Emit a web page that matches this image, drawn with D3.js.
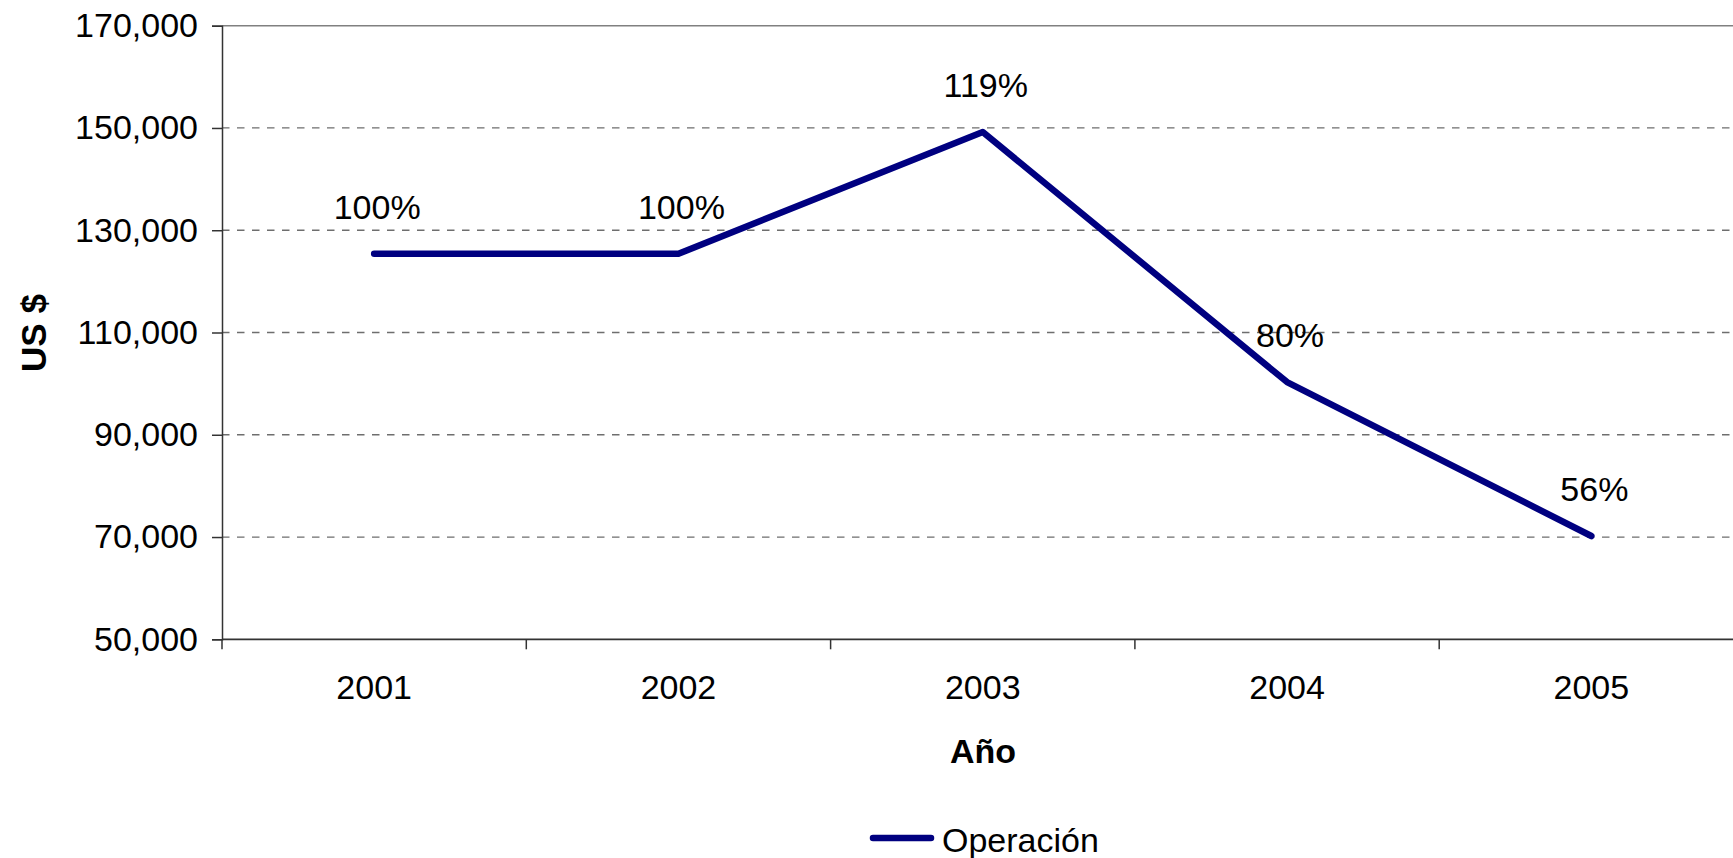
<!DOCTYPE html>
<html>
<head>
<meta charset="utf-8">
<script src="https://cdn.jsdelivr.net/npm/d3@7"></script>
<style>
  html, body { margin: 0; padding: 0; background: #fff; overflow: hidden; }
  text { font-family: "Liberation Sans", Arial, sans-serif; }
</style>
</head>
<body>
<svg id="chart" width="1733" height="858"></svg>
<script>
const years = ["2001", "2002", "2003", "2004", "2005"];
const operacion = [125400, 125400, 149200, 100300, 70200];
const pctLabels = ["100%", "100%", "119%", "80%", "56%"];
const yTicks = [50000, 70000, 90000, 110000, 130000, 150000, 170000];
const seriesName = "Operación";
const xTitle = "Año";
const yTitle = "US $";

const FS = 34;
const svg = d3.select("#chart");
const margin = { left: 222, top: 25.7, bottom: 858 - 639.3 };
const plotW = 304.3 * years.length;
const plotH = 858 - margin.top - margin.bottom;

const x = d3.scaleBand().domain(years).range([0, plotW]).paddingInner(0).paddingOuter(0);
const y = d3.scaleLinear().domain([50000, 170000]).range([plotH, 0]);

const g = svg.append("g").attr("transform", `translate(${margin.left},${margin.top})`);

// gridlines
g.append("g")
  .selectAll("line")
  .data(yTicks.filter(v => v !== 50000 && v !== 170000))
  .join("line")
  .attr("x1", 0).attr("x2", plotW)
  .attr("y1", d => y(d)).attr("y2", d => y(d))
  .attr("stroke", "#6e6e6e").attr("stroke-width", 1.3)
  .attr("stroke-dasharray", "7.5,7.5");

// top border
g.append("line")
  .attr("x1", 0).attr("x2", plotW)
  .attr("y1", y(170000)).attr("y2", y(170000))
  .attr("stroke", "#808080").attr("stroke-width", 1.5);

// y axis
const yAxis = d3.axisLeft(y).tickValues(yTicks).tickSize(10).tickPadding(14)
  .tickFormat(d3.format(","));
const yg = g.append("g").call(yAxis);
yg.select(".domain").attr("stroke", "#333").attr("stroke-width", 1.5);
yg.selectAll(".tick line").attr("stroke", "#333").attr("stroke-width", 1.5);
yg.selectAll(".tick text").attr("font-size", FS).attr("fill", "#000")
  .attr("font-family", "Liberation Sans, Arial, sans-serif");

// x axis with ticks at band boundaries
const xg = g.append("g").attr("transform", `translate(0,${plotH})`);
xg.append("line").attr("x1", 0).attr("x2", plotW).attr("y1", 0).attr("y2", 0)
  .attr("stroke", "#333").attr("stroke-width", 1.8);
xg.selectAll("line.tk")
  .data(years.map(d => x(d)).concat([plotW]))
  .join("line").attr("class", "tk")
  .attr("x1", d => d).attr("x2", d => d).attr("y1", 0).attr("y2", 10)
  .attr("stroke", "#333").attr("stroke-width", 1.5);
xg.selectAll("text.yr")
  .data(years)
  .join("text").attr("class", "yr")
  .attr("x", d => x(d) + x.bandwidth() / 2)
  .attr("y", 60)
  .attr("text-anchor", "middle")
  .attr("font-size", FS).attr("fill", "#000")
  .text(d => d);

// line
const pts = years.map((yr, i) => ({ yr, v: operacion[i], lab: pctLabels[i] }));
const line = d3.line().x(d => x(d.yr) + x.bandwidth() / 2).y(d => y(d.v));
g.append("path").datum(pts)
  .attr("d", line)
  .attr("fill", "none")
  .attr("stroke", "#000080")
  .attr("stroke-width", 6.5)
  .attr("stroke-linecap", "round")
  .attr("stroke-linejoin", "round");

// data labels
g.selectAll("text.lab")
  .data(pts)
  .join("text").attr("class", "lab")
  .attr("x", d => x(d.yr) + x.bandwidth() / 2 + 3)
  .attr("y", d => y(d.v) - 35)
  .attr("text-anchor", "middle")
  .attr("font-size", FS).attr("fill", "#000")
  .text(d => d.lab);

// axis titles
svg.append("text")
  .attr("x", 983).attr("y", 763)
  .attr("text-anchor", "middle")
  .attr("font-size", FS).attr("font-weight", "bold")
  .text(xTitle);

svg.append("text")
  .attr("transform", "translate(46,333) rotate(-90)")
  .attr("text-anchor", "middle")
  .attr("font-size", 35).attr("font-weight", "bold")
  .text(yTitle);

// legend
const lg = svg.append("g").attr("transform", "translate(873,838)");
lg.append("line").attr("x1", 0).attr("x2", 58).attr("y1", 0).attr("y2", 0)
  .attr("stroke", "#000080").attr("stroke-width", 6.5).attr("stroke-linecap", "round");
lg.append("text").attr("x", 69).attr("y", 14)
  .attr("font-size", FS).attr("fill", "#000").text(seriesName);
</script>
</body>
</html>
